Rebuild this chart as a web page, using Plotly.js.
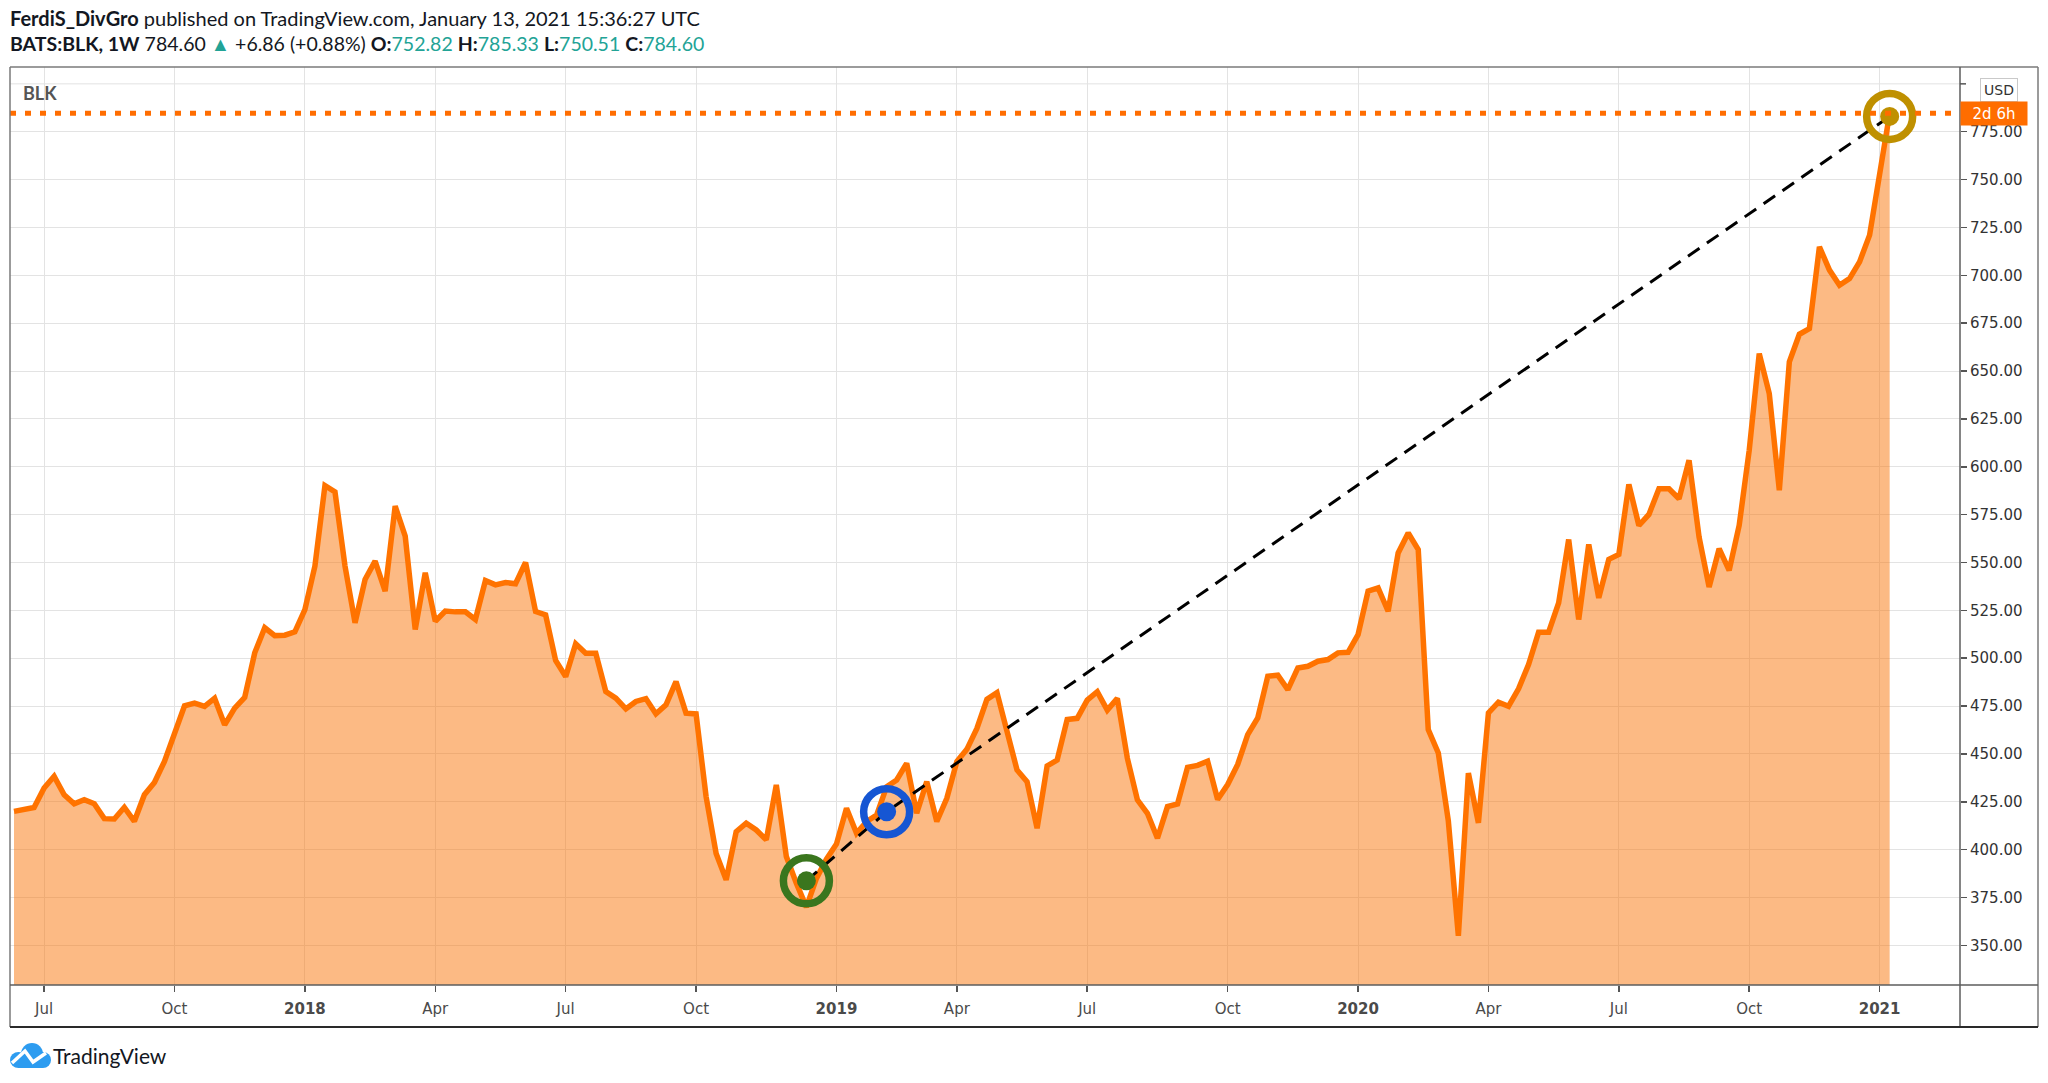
<!DOCTYPE html>
<html>
<head>
<meta charset="utf-8">
<script src="https://cdn.plot.ly/plotly-3.0.1.min.js"></script>
<style>
  html, body { margin: 0; padding: 0; background: #ffffff; }
  #chart { width: 2048px; height: 1083px; }
</style>
</head>
<body>
<div id="chart"></div>
<script>
// ---------------- DATA ----------------
const symbol = 'BLK';
const firstWeek = '2017-06-12';   // first weekly bar
const closes = [
  420, 421.2, 422, 432.2, 438.3, 428.7, 424, 426.1, 424, 416.2,
  416, 422.1, 414.8, 428.7, 435.1, 446.1, 460.9, 475.1, 476.5, 474.8,
  479.1, 465.2, 473.9, 479.5, 502.8, 515.9, 511.8, 512, 513.8, 525.4,
  548.1, 590.2, 586.9, 548.1, 518.5, 541.1, 550.7, 535, 579.4, 563.8,
  515, 544.6, 519.3, 524.6, 524.2, 524.2, 520.2, 540.6, 538.3, 539.5,
  538.9, 550, 524.4, 522.6, 498.8, 490.4, 507.5, 502.6, 502.6, 482.6,
  479.1, 473.5, 477.4, 478.9, 470.9, 475.6, 487.8, 471.3, 470.9, 427.7,
  398, 384.2, 409.4, 413.8, 410.3, 405.1, 433.8, 396.4, 382.5, 370,
  385, 395, 403, 421.6, 408.6, 414.7, 418, 432.9, 436.4, 445.1,
  419, 435.5, 414.7, 426.8, 446, 452.4, 463.3, 478.5, 482, 460.7,
  441.6, 435.5, 411.2, 443.7, 446.8, 468, 468.6, 478.1, 482.5, 472.9,
  479, 447.7, 426, 419, 406, 422.5, 423.9, 443, 444, 446.2,
  426.2, 434, 444.5, 460.1, 468.8, 490.6, 491.1, 483.6, 494.9, 495.8,
  498.4, 499.3, 502.8, 503.1, 512.3, 535, 536.7, 524.5, 555, 565.4,
  556.7, 462.7, 450.5, 415, 355, 440, 414, 471.4, 477, 474.9,
  484, 496.7, 513.6, 513.6, 528.9, 562, 520.2, 559.4, 531.5, 551.6,
  554.2, 590.8, 569.3, 575.1, 588.5, 588.5, 583.3, 603.4, 563.3, 537.2,
  557.2, 545.9, 569.4, 608.6, 659.1, 638.2, 587.7, 654.8, 669.2, 672.2,
  714.9, 702.7, 694.8, 698.3, 707, 721, 751.5, 784.6
];
const tickDates = ['2017-07-03','2017-10-02','2018-01-01','2018-04-02','2018-07-02','2018-10-01',
  '2019-01-07','2019-04-01','2019-07-01','2019-10-07','2020-01-06','2020-04-06','2020-07-06',
  '2020-10-05','2021-01-04'];
const tickLabels = ['Jul','Oct','<b>2018</b>','Apr','Jul','Oct','<b>2019</b>','Apr','Jul','Oct',
  '<b>2020</b>','Apr','Jul','Oct','<b>2021</b>'];
const priceTicks = [350, 375, 400, 425, 450, 475, 500, 525, 550, 575, 600, 625, 650, 675, 700, 725, 750, 775];
const hiddenGrid = 800;   // grid level whose label sits under the USD badge
const markDates = ['2018-12-17','2019-02-11','2021-01-11'];
const markValues = [383.7, 419.8, 783];
const markColors = ['#3a761e','#1656d3','#bf9000'];
const lastPrice = 784.60;
const headerLine1 = '<b>FerdiS_DivGro</b> published on TradingView.com, January 13, 2021 15:36:27 UTC';
const teal = '#22a396';
const headerLine2 = '<b>BATS:BLK, 1W</b> 784.60 <span style="color:' + teal + '">▲</span> +6.86 (+0.88%) ' +
  '<b>O:</b><span style="color:' + teal + '">752.82</span> <b>H:</b><span style="color:' + teal + '">785.33</span> ' +
  '<b>L:</b><span style="color:' + teal + '">750.51</span> <b>C:</b><span style="color:' + teal + '">784.60</span>';

// ---------------- BUILD ----------------
function weekDates(start, n) {
  const t0 = Date.parse(start + 'T00:00:00Z');
  const out = [];
  for (let i = 0; i < n; i++) out.push(new Date(t0 + i * 7 * 864e5).toISOString().slice(0, 10));
  return out;
}
function fmt(ms) { return new Date(ms).toISOString().replace('T', ' ').replace('Z', ''); }
const dates = weekDates(firstWeek, closes.length);
const t0 = Date.parse(firstWeek + 'T00:00:00Z');
const xRange = [fmt(t0 - 2.8 * 864e5), fmt(t0 + 1358.1 * 864e5)];

const FONT = 'DejaVu Sans';
const HFONT = 'Lato';

const traces = [
  {
    x: dates, y: closes, type: 'scatter', mode: 'lines',
    line: { color: '#ff7300', width: 5.5 },
    fill: 'tozeroy', fillcolor: 'rgba(250,118,10,0.5)',
    hoverinfo: 'skip'
  },
  {
    x: markDates, y: markValues, type: 'scatter', mode: 'lines',
    line: { color: '#000000', width: 3, dash: '14px,9px' },
    hoverinfo: 'skip'
  },
  {
    x: markDates, y: markValues, type: 'scatter', mode: 'markers',
    marker: { symbol: 'circle-open', size: 46, color: markColors, line: { width: 7.5, color: markColors } },
    hoverinfo: 'skip', cliponaxis: false
  },
  {
    x: markDates, y: markValues, type: 'scatter', mode: 'markers',
    marker: { symbol: 'circle', size: 19, color: markColors, line: { width: 0 } },
    hoverinfo: 'skip', cliponaxis: false
  }
];

// paper helpers (plot area: x 10..1960 px, y 67..985 px)
const px = v => (v - 10) / 1950;
const py = v => (985 - v) / 918;
const frame = '#7a7a7a';

const logoAnchor = { xanchor: px(10), yanchor: py(1068) };
function pixShape(o) {
  return Object.assign({ xref: 'paper', yref: 'paper', xsizemode: 'pixel', ysizemode: 'pixel',
    xanchor: logoAnchor.xanchor, yanchor: logoAnchor.yanchor, layer: 'above' }, o);
}
const logoBlue = '#2d9cf0';

const shapes = [
  // gridline under the USD badge
  { type: 'line', xref: 'paper', x0: 0, x1: 1, yref: 'y', y0: hiddenGrid, y1: hiddenGrid,
    line: { color: '#e3e3e3', width: 1 }, layer: 'below' },
  // last price dotted line
  { type: 'line', xref: 'paper', x0: 0, x1: 1, yref: 'y', y0: lastPrice, y1: lastPrice,
    line: { color: '#ff6d00', width: 5, dash: '6px,9px' }, layer: 'above' },
  // frame
  { type: 'line', xref: 'paper', yref: 'paper', x0: 0, x1: px(2038), y0: 1, y1: 1, line: { color: frame, width: 1.5 } },
  { type: 'line', xref: 'paper', yref: 'paper', x0: 0, x1: 0, y0: py(1027), y1: 1, line: { color: frame, width: 1.5 } },
  { type: 'line', xref: 'paper', yref: 'paper', x0: px(2038), x1: px(2038), y0: py(1027), y1: 1, line: { color: frame, width: 1.5 } },
  { type: 'line', xref: 'paper', yref: 'paper', x0: 1, x1: 1, y0: py(1027), y1: 1, line: { color: '#5d5d5d', width: 1.5 } },
  { type: 'line', xref: 'paper', yref: 'paper', x0: 0, x1: px(2038), y0: 0, y1: 0, line: { color: '#5d5d5d', width: 1.5 } },
  { type: 'line', xref: 'paper', yref: 'paper', x0: 0, x1: px(2038), y0: py(1027), y1: py(1027), line: { color: '#2a2a2a', width: 2 } },
  // short tick for the hidden 800 level
  { type: 'line', xref: 'paper', x0: 1, x1: px(1966), yref: 'y', y0: hiddenGrid, y1: hiddenGrid,
    line: { color: '#555555', width: 1.5 }, layer: 'above' },
  // TradingView logo (cloud)
  pixShape({ type: 'circle', x0: 11, x1: 33, y0: 3, y1: 25, fillcolor: logoBlue, line: { width: 0 } }),
  pixShape({ type: 'circle', x0: 0, x1: 17, y0: 0, y1: 16, fillcolor: logoBlue, line: { width: 0 } }),
  pixShape({ type: 'circle', x0: 25, x1: 41, y0: 0, y1: 16, fillcolor: logoBlue, line: { width: 0 } }),
  pixShape({ type: 'rect', x0: 8, x1: 33, y0: 0, y1: 12, fillcolor: logoBlue, line: { width: 0 } }),
  pixShape({ type: 'path', path: 'M2,5 L15,17 L23,6 L36,15', line: { color: '#ffffff', width: 3.5 } })
];

const annotations = [
  { xref: 'paper', yref: 'paper', x: px(8), y: py(18), xanchor: 'left', yanchor: 'middle', showarrow: false,
    text: headerLine1, font: { family: HFONT, size: 20, color: '#131722' } },
  { xref: 'paper', yref: 'paper', x: px(8), y: py(44), xanchor: 'left', yanchor: 'middle', showarrow: false,
    text: headerLine2, font: { family: HFONT, size: 19.5, color: '#131722' } },
  { xref: 'paper', yref: 'paper', x: px(21), y: py(93), xanchor: 'left', yanchor: 'middle', showarrow: false,
    text: '<b>' + symbol + '</b>', font: { family: HFONT, size: 18, color: '#555555' } },
  { xref: 'paper', yref: 'paper', x: px(1999), y: py(90), xanchor: 'center', yanchor: 'middle', showarrow: false,
    text: 'USD', font: { family: FONT, size: 14, color: '#333333' }, bgcolor: '#ffffff',
    bordercolor: '#c9c9c9', borderwidth: 1, borderpad: 3 },
  { xref: 'paper', yref: 'paper', x: 1, y: py(113.5), xanchor: 'left', yanchor: 'middle', showarrow: false,
    text: '2d 6h', font: { family: FONT, size: 15, color: '#ffffff' }, bgcolor: '#ff6d00',
    width: 64, height: 21, borderpad: 1 },
  { xref: 'paper', yref: 'paper', x: px(51), y: py(1055), xanchor: 'left', yanchor: 'middle', showarrow: false,
    text: 'TradingView', font: { family: HFONT, size: 21, color: '#131722' } }
];

const layout = {
  width: 2048, height: 1083,
  paper_bgcolor: '#ffffff', plot_bgcolor: '#ffffff',
  margin: { l: 10, r: 88, t: 67, b: 98, pad: 0 },
  showlegend: false,
  hovermode: false,
  font: { family: FONT, size: 15, color: '#333333' },
  xaxis: {
    type: 'date', range: xRange,
    tickmode: 'array', tickvals: tickDates, ticktext: tickLabels,
    ticks: 'outside', ticklen: 6, tickcolor: '#555555', tickwidth: 1.5,
    ticklabelstandoff: 4,
    showgrid: true, gridcolor: '#e3e3e3', gridwidth: 1,
    showline: false, zeroline: false,
    tickfont: { family: FONT, size: 15, color: '#4a4a4a' }
  },
  yaxis: {
    side: 'right', range: [329.3, 808.8],
    tickmode: 'array', tickvals: priceTicks, ticktext: priceTicks.map(v => v.toFixed(2)),
    ticks: 'outside', ticklen: 6, tickcolor: '#555555', tickwidth: 1.5,
    showgrid: true, gridcolor: '#e3e3e3', gridwidth: 1,
    showline: false, zeroline: false,
    tickfont: { family: FONT, size: 15, color: '#333333' }
  },
  shapes: shapes,
  annotations: annotations
};

Plotly.newPlot('chart', traces, layout, { displayModeBar: false, staticPlot: true });
</script>
</body>
</html>
